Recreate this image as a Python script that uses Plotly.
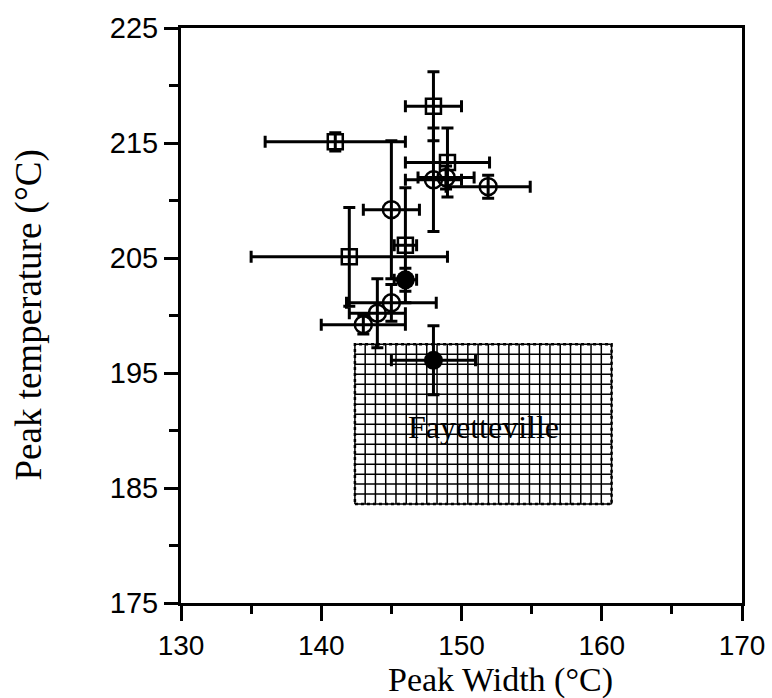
import numpy as np
import plotly.graph_objects as go

# ---- data ----
square_x = [148.0, 141.0, 149.0, 142.0, 146.0]
square_y = [218.2, 215.1, 213.3, 205.1, 206.1]
square_xerr = [2.0, 5.0, 3.0, 7.0, 0.8]
square_yerr = [3.0, 0.8, 3.0, 4.3, 5.0]

circle_x = [148.0, 148.9, 151.9, 145.0, 145.0, 144.0, 143.0]
circle_y = [211.8, 212.0, 211.2, 209.2, 201.1, 200.2, 199.2]
circle_xerr = [2.0, 2.0, 3.0, 2.0, 3.2, 2.0, 3.0]
circle_yerr = [4.5, 1.0, 1.0, 6.0, 1.6, 3.0, 0.8]

filled_x = [146.0, 148.0]
filled_y = [203.1, 196.1]
filled_xerr = [0.8, 3.0]
filled_yerr = [1.0, 3.0]

region_x = [142.4, 160.7]
region_y = [183.6, 197.5]
region_label = "Fayetteville"

x_ticks = [130, 140, 150, 160, 170]
y_ticks = [175, 185, 195, 205, 215, 225]

x_title = "Peak Width (°C)"
y_title = "Peak temperature (°C)"

fig = go.Figure()

# hatched (grid) Fayetteville region
nx, ny = 25, 16
gx, gy = [], []
for xv in np.linspace(region_x[0], region_x[1], nx + 1):
    gx += [xv, xv, None]
    gy += [region_y[0], region_y[1], None]
for yv in np.linspace(region_y[0], region_y[1], ny + 1):
    gx += [region_x[0], region_x[1], None]
    gy += [yv, yv, None]
fig.add_trace(go.Scatter(x=gx, y=gy, mode="lines",
                         line=dict(color="black", width=1.5),
                         hoverinfo="skip", showlegend=False))
fig.add_shape(type="rect", x0=region_x[0], x1=region_x[1], y0=region_y[0], y1=region_y[1],
              line=dict(color="black", width=2.5, dash="dot"))
fig.add_annotation(x=(region_x[0] + region_x[1]) / 2, y=190.3, text=region_label,
                   showarrow=False,
                   font=dict(family="Liberation Serif", size=32, color="black"))

err_style = dict(type="data", color="black", thickness=3, width=6)

fig.add_trace(go.Scatter(
    x=square_x, y=square_y, mode="markers",
    marker=dict(symbol="square-open", size=15, color="black", line=dict(width=2.5)),
    error_x=dict(array=square_xerr, **err_style),
    error_y=dict(array=square_yerr, **err_style),
    showlegend=False))

fig.add_trace(go.Scatter(
    x=circle_x, y=circle_y, mode="markers",
    marker=dict(symbol="circle-open", size=17, color="black", line=dict(width=2.5)),
    error_x=dict(array=circle_xerr, **err_style),
    error_y=dict(array=circle_yerr, **err_style),
    showlegend=False))

fig.add_trace(go.Scatter(
    x=filled_x, y=filled_y, mode="markers",
    marker=dict(symbol="circle", size=19, color="black"),
    error_x=dict(array=filled_xerr, **err_style),
    error_y=dict(array=filled_yerr, **err_style),
    showlegend=False))

axis_common = dict(showgrid=False, zeroline=False, showline=True, linecolor="black",
                   linewidth=3, mirror=True, ticks="outside", tickcolor="black",
                   tickwidth=2.5, automargin=False)

fig.update_xaxes(range=[130, 170], tickvals=x_ticks, ticklen=15,
                 tickfont=dict(family="Liberation Sans", size=28, color="black"),
                 minor=dict(dtick=5, tick0=130, ticks="outside", ticklen=8, tickwidth=2.5, tickcolor="black"),
                 **axis_common)
fig.update_yaxes(range=[175, 225], tickvals=y_ticks, ticklen=14,
                 tickfont=dict(family="Liberation Sans", size=29, color="black"),
                 minor=dict(dtick=5, tick0=175, ticks="outside", ticklen=9, tickwidth=2.5, tickcolor="black"),
                 **axis_common)

# axis titles placed as in the reference
fig.add_annotation(xref="paper", yref="paper", x=0.570, y=0, yanchor="top", yshift=-56,
                   text=x_title, showarrow=False,
                   font=dict(family="Liberation Serif", size=34, color="black"))
fig.add_annotation(xref="paper", yref="paper", x=0, y=0.5, xanchor="center", xshift=-153,
                   text=y_title, textangle=-90, showarrow=False,
                   font=dict(family="Liberation Serif", size=37, color="black"))

fig.update_layout(width=772, height=698, plot_bgcolor="white", paper_bgcolor="white",
                  margin=dict(l=181, r=30, t=28, b=95))

fig.write_html("out.html")
